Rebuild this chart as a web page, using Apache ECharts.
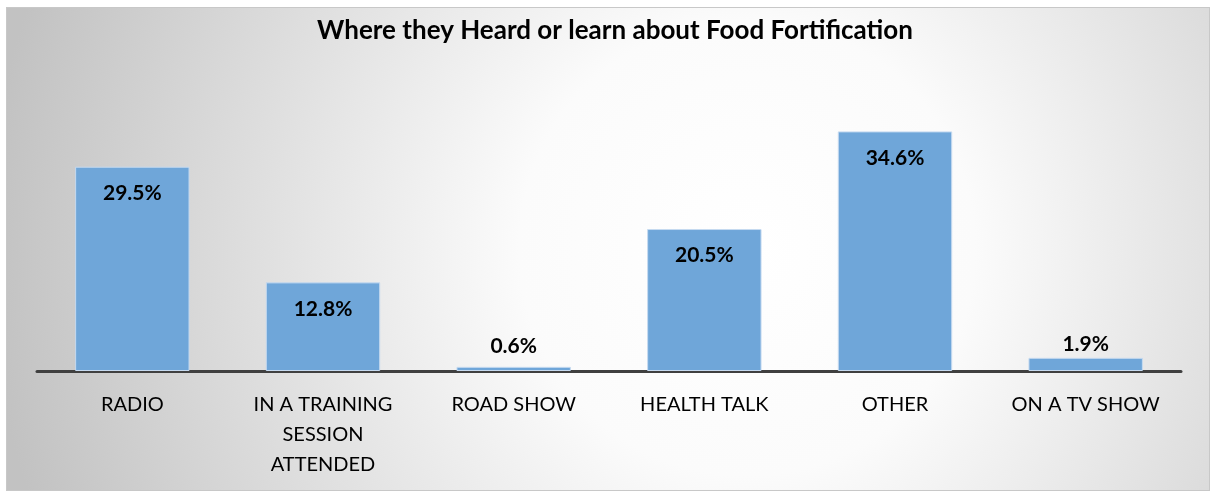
<!DOCTYPE html>
<html>
<head>
<meta charset="utf-8">
<script src="https://cdn.jsdelivr.net/npm/echarts@6/dist/echarts.min.js"></script>
<style>
html,body{margin:0;padding:0;background:#fff;}
#chart{position:absolute;left:6px;top:7px;width:1202px;height:482px;border:1px solid #c8c8c8;}
</style>
</head>
<body>
<div id="chart"></div>
<script>
var titleText = 'Where they Heard or learn about Food Fortification';
var categories = ['RADIO', 'IN A TRAINING SESSION ATTENDED', 'ROAD SHOW', 'HEALTH TALK', 'OTHER', 'ON A TV SHOW'];
var categoryLabels = ['RADIO', 'IN A TRAINING\nSESSION\nATTENDED', 'ROAD SHOW', 'HEALTH TALK', 'OTHER', 'ON A TV SHOW'];
var values = [29.5, 12.8, 0.6, 20.5, 34.6, 1.9];

var FONT = "Lato, 'Open Sans', sans-serif";
var chart = echarts.init(document.getElementById('chart'), null, {renderer: 'canvas'});

var seriesData = values.map(function (v) {
  var small = v < 5;
  return {
    value: v,
    label: small ? {position: 'top', distance: v < 1 ? 10 : 3} : {position: 'insideTop', distance: 16}
  };
});

chart.setOption({
  backgroundColor: {
    type: 'radial', x: 740, y: 240, r: 760, global: true,
    colorStops: [
      {offset: 0, color: '#ffffff'},
      {offset: 0.3, color: '#fbfbfb'},
      {offset: 1, color: '#c2c2c2'}
    ]
  },
  animation: false,
  title: {
    text: titleText,
    left: 603, top: 5, textAlign: 'center',
    textStyle: {fontFamily: FONT, fontSize: 26, fontWeight: 'bold', color: '#000'}
  },
  grid: {left: 30, right: 28, top: 86, bottom: 119, containLabel: false},
  xAxis: {
    type: 'category',
    data: categories,
    axisLine: {lineStyle: {color: '#404040', width: 3}},
    axisTick: {show: false},
    axisLabel: {
      interval: 0, margin: 19, fontFamily: FONT, fontSize: 20, color: '#000', lineHeight: 30,
      formatter: function (v, i) { return categoryLabels[i]; }
    }
  },
  yAxis: {
    type: 'value', min: 0, max: 40, interval: 10,
    show: false, splitLine: {show: false}
  },
  series: [{
    type: 'bar',
    data: seriesData,
    barCategoryGap: '40%',
    itemStyle: {color: '#6fa6d9', borderColor: '#c6daf0', borderWidth: 1},
    label: {
      show: true,
      formatter: function (p) { return p.value.toFixed(1) + '%'; },
      fontFamily: FONT, fontSize: 21, fontWeight: 'bold', color: '#000'
    }
  }]
});
</script>
</body>
</html>
